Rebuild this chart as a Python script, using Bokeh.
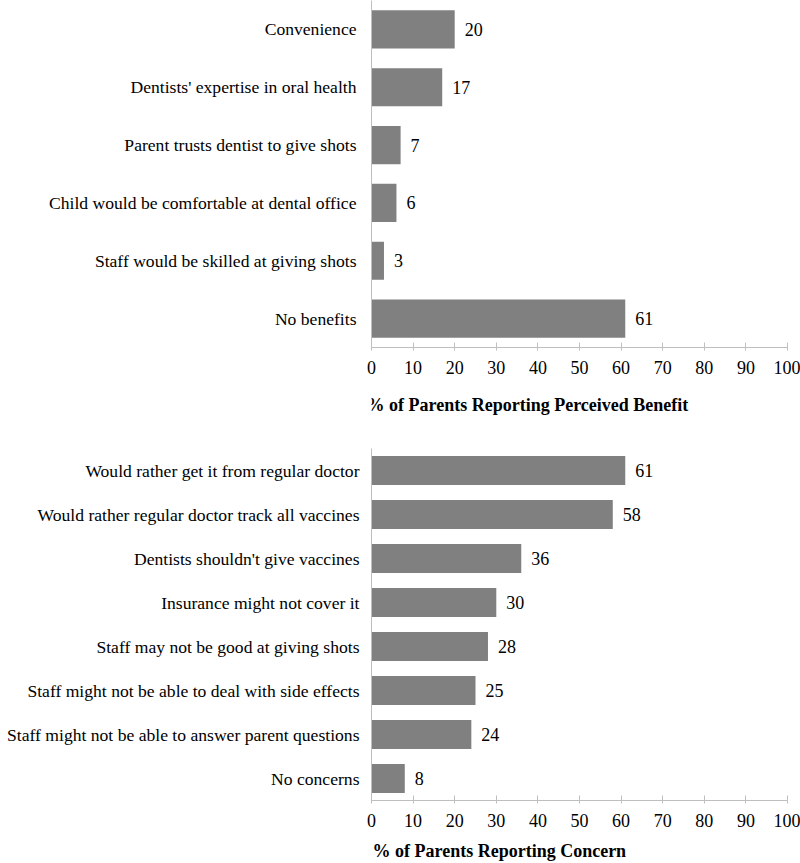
from bokeh.plotting import figure
from bokeh.models import FactorRange, Range1d, ColumnDataSource, FixedTicker
from bokeh.layouts import column
from bokeh.embed import file_html
from bokeh.resources import INLINE
from bokeh.core.properties import value

benefit_title = "% of Parents Reporting Perceived Benefit"
benefit_labels = [
    "Convenience",
    "Dentists' expertise in oral health",
    "Parent trusts dentist to give shots",
    "Child would be comfortable at dental office",
    "Staff would be skilled at giving shots",
    "No benefits",
]
benefit_values = [20, 17, 7, 6, 3, 61]

concern_title = "% of Parents Reporting Concern"
concern_labels = [
    "Would rather get it from regular doctor",
    "Would rather regular doctor track all vaccines",
    "Dentists shouldn't give vaccines",
    "Insurance might not cover it",
    "Staff may not be good at giving shots",
    "Staff might not be able to deal with side effects",
    "Staff might not be able to answer parent questions",
    "No concerns",
]
concern_values = [61, 58, 36, 30, 28, 25, 24, 8]

x_ticks = [0, 10, 20, 30, 40, 50, 60, 70, 80, 90, 100]

FONT = "Liberation Serif"
BAR = "#808080"
AXIS = "#bfbfbf"
LEFT = 371
RIGHT = 13


def make(labels, values, height, top, bottom, label_standoff):
    p = figure(width=800, height=height,
               y_range=FactorRange(factors=labels[::-1], range_padding=0),
               x_range=Range1d(0, 100),
               output_backend="svg", toolbar_location=None,
               min_border_left=LEFT, min_border_right=RIGHT,
               min_border_top=top, min_border_bottom=bottom)
    p.outline_line_color = None
    p.grid.visible = False
    src = ColumnDataSource(dict(cat=labels, val=values, txt=[str(v) for v in values]))
    p.hbar(y="cat", right="val", left=0, height=0.66, source=src,
           fill_color=BAR, line_color=None)
    p.text(x="val", y="cat", text="txt", source=src, x_offset=10,
           text_align="left", text_baseline="middle",
           text_font=value(FONT), text_font_size="18px", text_color="black")

    ya = p.yaxis[0]
    ya.axis_line_color = AXIS
    ya.major_tick_line_color = None
    ya.minor_tick_line_color = None
    ya.major_tick_in = 0
    ya.major_tick_out = 0
    ya.major_label_standoff = label_standoff
    ya.major_label_text_font = FONT
    ya.major_label_text_font_size = "17.6px"
    ya.major_label_text_color = "black"

    ax = p.xaxis[0]
    ax.ticker = FixedTicker(ticks=x_ticks)
    ax.axis_line_color = AXIS
    ax.major_tick_line_color = AXIS
    ax.minor_tick_line_color = None
    ax.major_tick_in = 5
    ax.major_tick_out = 3
    ax.major_label_standoff = 10
    ax.major_label_text_font = FONT
    ax.major_label_text_font_size = "18px"
    ax.major_label_text_color = "black"
    return p


def title_strip(text, height, x_off, y_off):
    t = figure(width=800, height=height, x_range=Range1d(0, 100), y_range=Range1d(0, 1),
               output_backend="svg", toolbar_location=None,
               x_axis_location=None, y_axis_location=None,
               min_border_left=LEFT, min_border_right=RIGHT,
               min_border_top=0, min_border_bottom=0)
    t.outline_line_color = None
    t.grid.visible = False
    src = ColumnDataSource(dict(x=[0], y=[0.5], txt=[text]))
    t.text(x="x", y="y", text="txt", source=src, x_offset=x_off, y_offset=y_off,
           text_align="left", text_baseline="middle",
           text_font=value(FONT), text_font_size="18px", text_font_style="bold",
           text_color="black")
    return t


p1 = make(benefit_labels, benefit_values, 387, 0, 40, 15)
t1 = title_strip(benefit_title, 38, -5, -2)
p2 = make(concern_labels, concern_values, 415, 23, 40, 12)
t2 = title_strip(concern_title, 23, 1, -1)

layout = column(p1, t1, p2, t2, spacing=0)
open("out.html", "w").write(file_html(layout, INLINE))
